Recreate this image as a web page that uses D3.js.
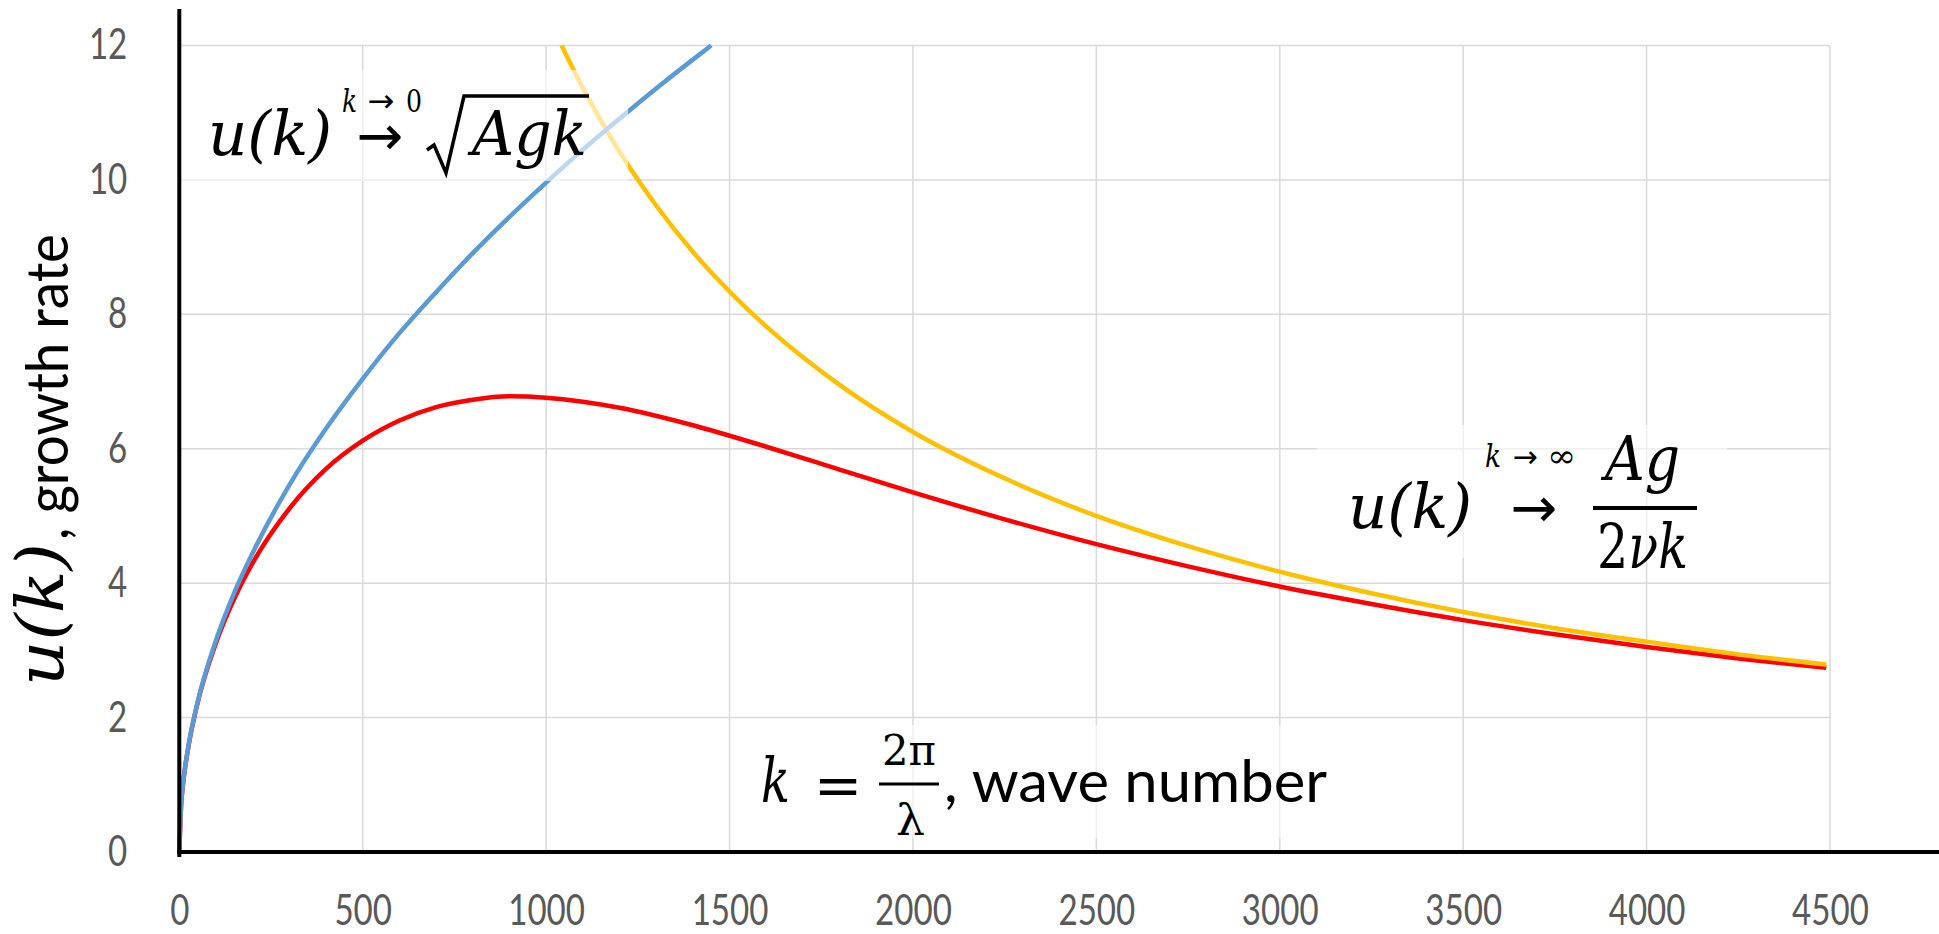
<!DOCTYPE html>
<html>
<head>
<meta charset="utf-8">
<script src="https://cdn.jsdelivr.net/npm/d3@7"></script>
<style>
  body { margin: 0; background: #fff; }
  svg { display: block; }
</style>
</head>
<body>
<div id="chart"></div>
<script>
// values
const xTicks = [0, 500, 1000, 1500, 2000, 2500, 3000, 3500, 4000, 4500];
const yTicks = [0, 2, 4, 6, 8, 10, 12];

// sqrt(Agk) branch (blue)
const kBlue = [0, 5, 10, 25, 50, 100, 150, 200, 300, 400, 500, 600, 700, 800, 900, 1000, 1100, 1200, 1300, 1400, 1450];
const uBlue = [0, 0.70, 1.00, 1.58, 2.23, 3.15, 3.86, 4.45, 5.46, 6.30, 7.04, 7.72, 8.33, 8.91, 9.45, 9.96, 10.45, 10.91, 11.36, 11.79, 12.0];

// full growth rate (red)
const kRed = [0, 5, 10, 25, 50, 100, 150, 200, 300, 400, 500, 600, 700, 800, 900, 1000, 1100, 1200, 1400, 1600, 1800, 2000, 2250, 2500, 2750, 3000, 3250, 3500, 3750, 4000, 4250, 4490];
const uRed = [0, 0.70, 1.00, 1.57, 2.22, 3.11, 3.77, 4.30, 5.11, 5.70, 6.12, 6.42, 6.62, 6.73, 6.78, 6.76, 6.70, 6.61, 6.35, 6.03, 5.69, 5.35, 4.95, 4.58, 4.25, 3.95, 3.69, 3.45, 3.24, 3.05, 2.88, 2.74];

// Ag/(2vk) branch (yellow)
const kYellow = [1042, 1100, 1200, 1300, 1400, 1500, 1600, 1800, 2000, 2250, 2500, 2750, 3000, 3250, 3500, 3750, 4000, 4250, 4490];
const uYellow = [12.0, 11.37, 10.42, 9.62, 8.93, 8.34, 7.82, 6.95, 6.25, 5.56, 5.00, 4.55, 4.17, 3.85, 3.57, 3.33, 3.13, 2.94, 2.79];

const width = 1939, height = 934;
const sans = "Lato, 'Open Sans', sans-serif";
const serif = "'DejaVu Serif', 'Liberation Serif', serif";
const arrowFont = "'DejaVu Sans', sans-serif";

const svg = d3.select("#chart")
    .append("svg")
    .attr("width", width)
    .attr("height", height);

const x = d3.scaleLinear().domain([0, 4500]).range([179.3, 1830]);
const y = d3.scaleLinear().domain([0, 12]).range([852, 45.5]);

// gridlines
svg.append("g").selectAll("line")
    .data(xTicks.slice(1))
    .join("line")
    .attr("x1", d => x(d)).attr("x2", d => x(d))
    .attr("y1", y(12)).attr("y2", y(0))
    .attr("stroke", "#d9d9d9")
    .attr("stroke-width", 1.5);

svg.append("g").selectAll("line")
    .data(yTicks.slice(1))
    .join("line")
    .attr("x1", x(0)).attr("x2", x(4500))
    .attr("y1", d => y(d)).attr("y2", d => y(d))
    .attr("stroke", "#d9d9d9")
    .attr("stroke-width", 1.5);

// tick labels through d3 axes
const xAxis = svg.append("g")
    .attr("transform", `translate(0,${y(0)})`)
    .call(d3.axisBottom(x).tickValues(xTicks).tickSize(0).tickPadding(43).tickFormat(d => d));
const yAxis = svg.append("g")
    .attr("transform", `translate(${x(0)},0)`)
    .call(d3.axisLeft(y).tickValues(yTicks).tickSize(0).tickPadding(52).tickFormat(d => d));

[xAxis, yAxis].forEach(g => {
    g.select(".domain").remove();
    g.selectAll("text")
        .attr("font-family", sans)
        .attr("font-size", 42)
        .attr("fill", "#595959")
        .attr("textLength", d => String(d).length * 19.2)
        .attr("lengthAdjust", "spacingAndGlyphs");
});

// curves
const line = d3.line()
    .x(d => x(d[0]))
    .y(d => y(d[1]))
    .curve(d3.curveMonotoneX);

const series = [
    { k: kRed, u: uRed, color: "#ff0000" },
    { k: kYellow, u: uYellow, color: "#ffc000" },
    { k: kBlue, u: uBlue, color: "#5b9bd5" }
];

svg.append("g").selectAll("path")
    .data(series)
    .join("path")
    .attr("d", s => line(s.k.map((k, i) => [k, s.u[i]])))
    .attr("fill", "none")
    .attr("stroke", s => s.color)
    .attr("stroke-width", 4.5)
    .attr("stroke-linejoin", "round");

// semi-transparent text boxes
const boxes = [
    { x: 181, y: 70, w: 447, h: 111 },
    { x: 1317, y: 425, w: 410, h: 133 },
    { x: 740, y: 725, w: 620, h: 113 }
];
svg.append("g").selectAll("rect")
    .data(boxes)
    .join("rect")
    .attr("x", d => d.x).attr("y", d => d.y)
    .attr("width", d => d.w).attr("height", d => d.h)
    .attr("fill", "#fff")
    .attr("fill-opacity", 0.6);

// axis lines
svg.append("line")
    .attr("x1", x(0) - 2).attr("x2", width)
    .attr("y1", y(0)).attr("y2", y(0))
    .attr("stroke", "#000").attr("stroke-width", 4);
svg.append("line")
    .attr("x1", x(0)).attr("x2", x(0))
    .attr("y1", 9).attr("y2", y(0) + 5)
    .attr("stroke", "#000").attr("stroke-width", 4);

// text helper: left x, baseline y, fitted length
function txt(g, px, py, s, size, len, opts = {}) {
    const t = g.append("text")
        .attr("x", px).attr("y", py)
        .attr("font-family", opts.family || serif)
        .attr("font-size", size)
        .attr("font-style", opts.italic ? "italic" : "normal")
        .attr("text-anchor", opts.anchor || "start")
        .attr("fill", "#000")
        .text(s);
    if (len) t.attr("textLength", len).attr("lengthAdjust", "spacingAndGlyphs");
    return t;
}

const notes = svg.append("g");

// u(k) -> sqrt(Agk)
txt(notes, 208, 155, "u(k)", 62, 124, { italic: true });
txt(notes, 342, 112, "k", 32, 15, { italic: true });
txt(notes, 381, 112, "→", 32, null, { family: arrowFont, anchor: "middle" });
txt(notes, 406, 112, "0", 32, 16);
txt(notes, 380, 155, "→", 56, null, { family: arrowFont, anchor: "middle" });
notes.append("path")
    .attr("d", "M427,150 L434,145 L446,173 L464,96 L589,96")
    .attr("fill", "none")
    .attr("stroke", "#000")
    .attr("stroke-width", 3.5)
    .attr("stroke-linejoin", "miter");
txt(notes, 472, 155, "Agk", 62, 115, { italic: true });

// u(k) -> Ag/(2vk)
txt(notes, 1348, 528, "u(k)", 62, 124, { italic: true });
txt(notes, 1485, 467, "k", 32, 16, { italic: true });
txt(notes, 1525, 467, "→", 30, null, { family: arrowFont, anchor: "middle" });
txt(notes, 1547, 467, "∞", 32, 29);
txt(notes, 1534, 527, "→", 56, null, { family: arrowFont, anchor: "middle" });
txt(notes, 1605, 480, "Ag", 62, 75, { italic: true });
notes.append("line")
    .attr("x1", 1593).attr("x2", 1697)
    .attr("y1", 508).attr("y2", 508)
    .attr("stroke", "#000").attr("stroke-width", 4);
const den = txt(notes, 1597, 568, "", 62, 91);
den.append("tspan").text("2");
den.append("tspan").attr("font-style", "italic").text("νk");

// x title
txt(notes, 761, 802, "k", 62, 29, { italic: true });
txt(notes, 838, 805, "=", 58, null, { anchor: "middle" });
txt(notes, 882, 765, "2π", 42, 54);
notes.append("line")
    .attr("x1", 879).attr("x2", 939)
    .attr("y1", 784).attr("y2", 784)
    .attr("stroke", "#000").attr("stroke-width", 3);
txt(notes, 896, 835, "λ", 42, 29);
txt(notes, 944, 802, ", wave number", 58, 383, { family: sans });

// y title, rotated
const yt = svg.append("g").attr("transform", "translate(63,686) rotate(-90)");
txt(yt, 0, 0, "u(k)", 66, 143, { italic: true });
txt(yt, 146, 5, ", growth rate", 58, 306, { family: sans });
</script>
</body>
</html>
